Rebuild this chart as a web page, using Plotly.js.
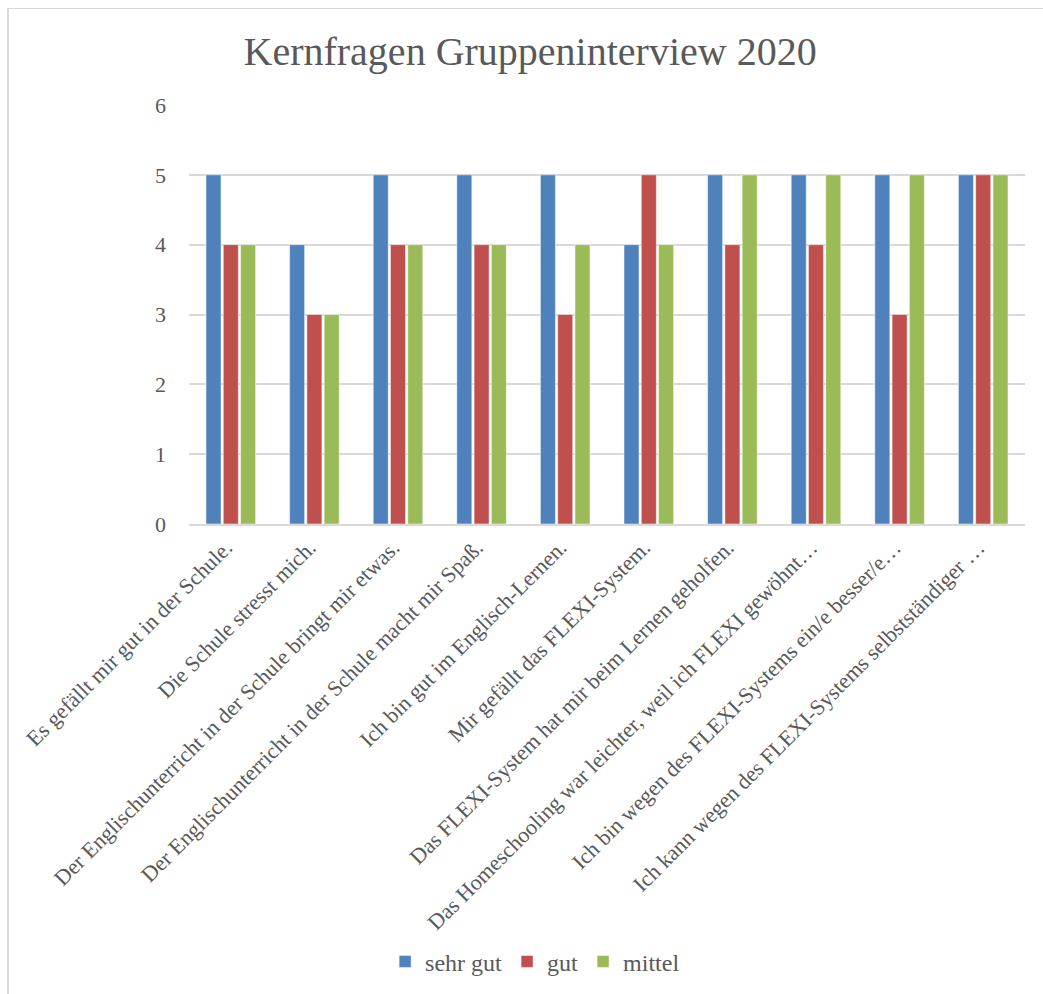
<!DOCTYPE html>
<html>
<head>
<meta charset="utf-8">
<script src="https://cdn.plot.ly/plotly-3.0.1.min.js"></script>
<style>
html,body{margin:0;padding:0;background:#fff;}
#wrap{position:absolute;left:0;top:0;width:1043px;height:994px;}
#frame{position:absolute;left:7px;top:8px;width:1036px;height:986px;border-top:1px solid #d9d9d9;border-left:2px solid #d9d9d9;box-sizing:border-box;pointer-events:none;}
#chart{position:absolute;left:0;top:0;width:1043px;height:994px;}
</style>
</head>
<body>
<div id="wrap"><div id="chart"></div><div id="frame"></div></div>
<script>
const categories = [
  "Es gefällt mir gut in der Schule.",
  "Die Schule stresst mich.",
  "Der Englischunterricht in der Schule bringt mir etwas.",
  "Der Englischunterricht in der Schule macht mir Spaß.",
  "Ich bin gut im Englisch-Lernen.",
  "Mir gefällt das FLEXI-System.",
  "Das FLEXI-System hat mir beim Lernen geholfen.",
  "Das Homeschooling war leichter, weil ich FLEXI gewöhnt…",
  "Ich bin wegen des FLEXI-Systems ein/e besser/e…",
  "Ich kann wegen des FLEXI-Systems selbstständiger …"
];
const sehrGut = [5, 4, 5, 5, 5, 4, 5, 5, 5, 5];
const gut     = [4, 3, 4, 4, 3, 5, 4, 4, 3, 5];
const mittel  = [4, 3, 4, 4, 4, 4, 5, 5, 5, 5];
const seriesNames = ["sehr gut", "gut", "mittel"];
const yTicks = [0, 1, 2, 3, 4, 5, 6];

const FONT = "'Liberation Serif', 'DejaVu Serif', serif";
const GRAY = "#595959";
const colors = ["#4F81BD", "#C0504D", "#9BBB59"];
const data = [sehrGut, gut, mittel].map((vals, i) => ({
  type: "bar",
  name: seriesNames[i],
  x: categories,
  y: vals,
  marker: {color: colors[i], line: {color: "#ffffff", width: 0.5}},
  hoverinfo: "x+y+name"
}));

const layout = {
  width: 1043, height: 994,
  margin: {l: 189, r: 18, t: 105, b: 469, pad: 0},
  paper_bgcolor: "#ffffff",
  plot_bgcolor: "#ffffff",
  font: {family: FONT, color: GRAY},
  title: {
    text: "Kernfragen Gruppeninterview 2020",
    font: {family: FONT, size: 40, color: GRAY},
    xref: "paper", x: 0.408, xanchor: "center",
    yref: "container", y: 0.949, yanchor: "middle"
  },
  barmode: "group",
  bargap: 0.38,
  bargroupgap: 0.13,
  xaxis: {
    type: "category",
    tickangle: -45,
    tickfont: {family: FONT, size: 22, color: GRAY},
    showgrid: false,
    showline: true, linecolor: "#d9d9d9", linewidth: 2,
    ticks: "", ticklabelstandoff: 0, ticklabelshift: -5,
    automargin: false, fixedrange: true
  },
  yaxis: {
    range: [0, 6],
    tickvals: yTicks,
    ticktext: yTicks.map(String),
    tickfont: {family: FONT, size: 22, color: GRAY},
    showgrid: true, gridcolor: "#d9d9d9", gridwidth: 2,
    zeroline: false, showline: false,
    ticks: "", ticklabelstandoff: 22,
    automargin: false, fixedrange: true
  },
  showlegend: true,
  legend: {
    orientation: "h",
    x: 0.414, xanchor: "center",
    y: -1.04, yanchor: "middle",
    font: {family: FONT, size: 24, color: GRAY},
    itemwidth: 30,
    traceorder: "normal"
  }
};

Plotly.newPlot("chart", data, layout, {displayModeBar: false});
</script>
</body>
</html>
